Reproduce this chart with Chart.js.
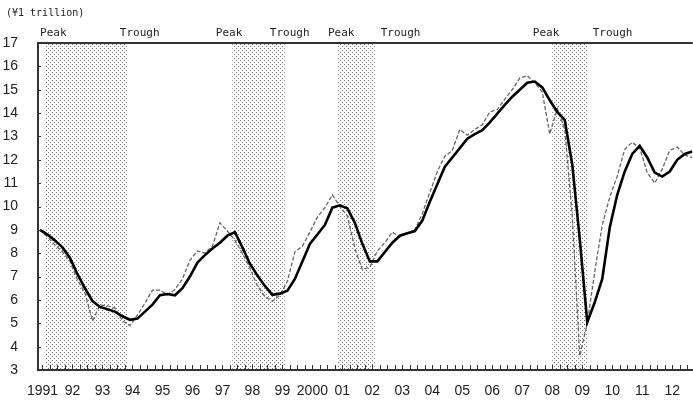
<!DOCTYPE html>
<html><head><meta charset="utf-8">
<script src="https://cdn.jsdelivr.net/npm/chart.js@4"></script>
<style>html,body{margin:0;padding:0;background:#fff;}#wrap{width:693px;height:403px;position:relative;}</style>
</head><body><div id="wrap"><canvas id="c" width="693" height="403"></canvas></div>
<script>
const unitLabel = '(\u00a51 trillion)';
const years = [1991,1992,1993,1994,1995,1996,1997,1998,1999,2000,2001,2002,2003,2004,2005,2006,2007,2008,2009,2010,2011,2012];
const yearLabels = ['1991','92','93','94','95','96','97','98','99','2000','01','02','03','04','05','06','07','08','09','10','11','12'];
const firstQuarter = 1991; // 1991 Q1, quarterly series
// solid line (quarterly)
const solidSeries = [
  9.00, 8.80, 8.55, 8.25, 7.80, 7.10, 6.50, 5.95,
  5.70, 5.60, 5.50, 5.30, 5.15, 5.20, 5.50, 5.80,
  6.20, 6.25, 6.20, 6.50, 7.00, 7.60, 7.92, 8.20,
  8.45, 8.75, 8.90, 8.25, 7.55, 7.05, 6.60, 6.22,
  6.27, 6.40, 6.90, 7.65, 8.40, 8.80, 9.21, 9.95,
  10.05, 9.92, 9.30, 8.40, 7.65, 7.65, 8.05, 8.45,
  8.75, 8.85, 8.95, 9.40, 10.20, 10.95, 11.70, 12.10,
  12.50, 12.90, 13.10, 13.27, 13.60, 13.98, 14.35, 14.70,
  15.00, 15.30, 15.35, 15.10, 14.55, 14.05, 13.70, 11.80,
  8.60, 5.05, 5.90, 6.90, 9.10, 10.50, 11.50, 12.25,
  12.60, 12.10, 11.45, 11.28, 11.50, 12.00, 12.25, 12.35
];
// dashed line (quarterly)
const dashedSeries = [
  9.00, 8.70, 8.35, 8.05, 7.65, 6.85, 6.30, 5.10,
  5.78, 5.75, 5.65, 5.10, 4.90, 5.35, 5.86, 6.42,
  6.42, 6.22, 6.45, 6.90, 7.70, 8.10, 8.00, 8.30,
  9.30, 8.95, 8.55, 8.00, 7.36, 6.60, 6.15, 5.95,
  6.20, 6.80, 8.06, 8.30, 8.90, 9.55, 9.95, 10.50,
  10.00, 9.60, 8.20, 7.30, 7.40, 8.10, 8.45, 8.90,
  8.70, 8.85, 9.00, 9.70, 10.60, 11.50, 12.15, 12.40,
  13.30, 13.05, 13.30, 13.50, 14.05, 14.15, 14.60, 15.00,
  15.50, 15.60, 15.30, 14.90, 13.10, 14.20, 13.30, 9.60,
  3.60, 5.00, 7.20, 9.20, 10.40, 11.30, 12.45, 12.75,
  12.50, 11.45, 11.00, 11.60, 12.40, 12.55, 12.20, 12.10
];
const peaks = [1991.08, 1997.33, 2000.83, 2008.0];
const troughs = [1993.83, 1999.08, 2002.08, 2009.17];
const phaseLabels = ['Peak','Trough','Peak','Trough','Peak','Trough','Peak','Trough'];
const phaseLabelAt = [1990.92, 1993.58, 1996.78, 1998.58, 2000.52, 2002.28, 2007.35, 2009.35];
const yMin = 3, yMax = 17;

const plotOffset = -1/12; // points plotted one month before quarter start
const pts = s => s.map((v, i) => ({x: firstQuarter + i * 0.25 + plotOffset, y: v}));

// dotted pattern
const pc = document.createElement('canvas');
pc.width = 4; pc.height = 4;
const pctx = pc.getContext('2d');
pctx.fillStyle = '#777';
pctx.fillRect(0, 0, 1, 1);
pctx.fillRect(2, 2, 1, 1);

const decor = {
  id: 'decor',
  beforeDatasetsDraw(chart) {
    const {ctx, chartArea: a, scales: {x}} = chart;
    ctx.save();
    ctx.fillStyle = ctx.createPattern(pc, 'repeat');
    for (let i = 0; i < peaks.length; i++) {
      const x0 = x.getPixelForValue(peaks[i]);
      const x1 = x.getPixelForValue(troughs[i]);
      ctx.fillRect(x0, a.top, x1 - x0, a.bottom - a.top);
    }
    ctx.restore();
  },
  afterDraw(chart) {
    const {ctx, chartArea: a, scales: {x, y}} = chart;
    ctx.save();
    ctx.strokeStyle = '#333';
    // top border
    ctx.lineWidth = 2;
    ctx.beginPath(); ctx.moveTo(a.left, a.top); ctx.lineTo(a.right, a.top); ctx.stroke();
    // inward ticks
    ctx.lineWidth = 1;
    ctx.beginPath();
    for (let v = yMin + 1; v <= yMax; v++) {
      const py = Math.round(y.getPixelForValue(v)) + 0.5;
      ctx.moveTo(a.left, py); ctx.lineTo(a.left + 3, py);
    }
    for (let t = years[0]; t <= years[years.length - 1] + 0.75; t += 0.25) {
      const px = Math.round(x.getPixelForValue(t)) + 0.5;
      if (px > a.right) break;
      ctx.moveTo(px, a.bottom); ctx.lineTo(px, a.bottom - 5);
    }
    ctx.stroke();
    // texts
    ctx.fillStyle = '#222';
    ctx.textBaseline = 'alphabetic';
    ctx.font = '10px "DejaVu Sans Mono", monospace';
    ctx.fillText(unitLabel, 6, 16);
    ctx.font = '11px "DejaVu Sans Mono", monospace';
    for (let i = 0; i < phaseLabels.length; i++) {
      ctx.fillText(phaseLabels[i], x.getPixelForValue(phaseLabelAt[i]), 36);
    }
    ctx.restore();
  }
};

new Chart(document.getElementById('c'), {
  type: 'line',
  data: {
    datasets: [
      {data: pts(solidSeries), borderColor: '#000', borderWidth: 2.6, pointRadius: 0, tension: 0, fill: false},
      {data: pts(dashedSeries), borderColor: '#666', borderWidth: 1.3, borderDash: [4, 2], pointRadius: 0, tension: 0, fill: false}
    ]
  },
  options: {
    responsive: false, animation: false, devicePixelRatio: 1,
    layout: {padding: {top: 43, left: 0, right: 0, bottom: 0}},
    plugins: {legend: {display: false}, tooltip: {enabled: false}},
    scales: {
      x: {
        type: 'linear', min: 1990.85, max: 2012.683,
        afterBuildTicks: s => { s.ticks = years.map(v => ({value: v})); },
        afterFit: s => { s.height = 33; },
        grid: {display: false, drawTicks: false},
        border: {display: true, color: '#333', width: 2},
        ticks: {autoSkip: false, maxRotation: 0, padding: 13, color: '#222',
          font: {family: '"Liberation Sans Narrow", "Arial Narrow", "Liberation Sans", Arial, sans-serif', size: 14},
          callback: (v, i) => yearLabels[i]}
      },
      y: {
        min: yMin, max: yMax,
        afterFit: s => { s.width = 38; },
        grid: {display: false, drawTicks: false},
        border: {display: true, color: '#333', width: 2},
        ticks: {stepSize: 1, padding: 20, color: '#222',
          font: {family: '"Liberation Sans Narrow", "Arial Narrow", "Liberation Sans", Arial, sans-serif', size: 14}}
      }
    }
  },
  plugins: [decor]
});
</script></body></html>
